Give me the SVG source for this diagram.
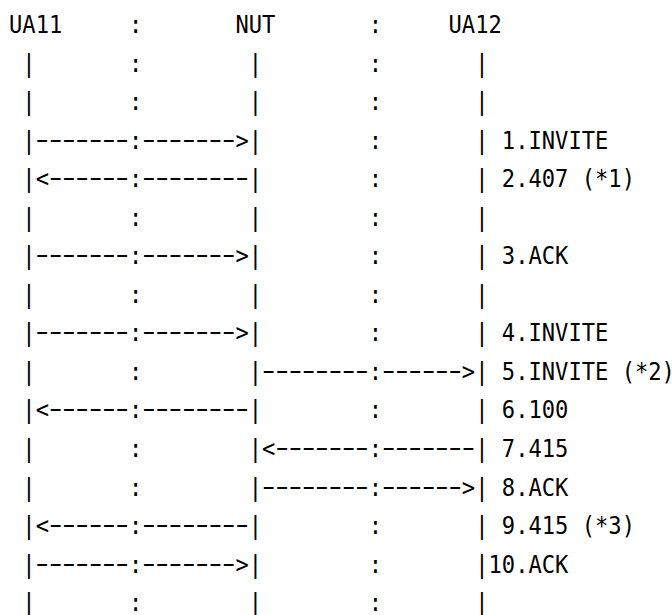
<svg xmlns="http://www.w3.org/2000/svg" width="672" height="615" viewBox="0 0 672 615" xml:space="preserve">
<style>
text { font-family: "DejaVu Sans Mono", "Liberation Mono", monospace; font-size: 24.7px; fill: #000; white-space: pre; }
text.d { font-family: "Liberation Sans", "DejaVu Sans", sans-serif; }
</style>
<rect width="672" height="615" fill="#fff"/>
<g transform="translate(9,0) scale(0.89573,1)">
  <g id="ua11">
    <text x="0" y="33">UA11</text>
  </g>
  <g id="nut">
    <text x="252.80" y="33">NUT</text>
  </g>
  <g id="ua12">
    <text x="490.73" y="33">UA12</text>
  </g>
  <g id="separators">
    <text x="133.84" y="33">:</text>
    <text x="401.51" y="33">:</text>
    <text x="133.84" y="71.55">:</text><text x="401.51" y="71.55">:</text>
    <text x="133.84" y="110.1">:</text><text x="401.51" y="110.1">:</text>
    <text x="401.51" y="148.65">:</text>
    <text x="401.51" y="187.2">:</text>
    <text x="133.84" y="225.75">:</text><text x="401.51" y="225.75">:</text>
    <text x="401.51" y="264.3">:</text>
    <text x="133.84" y="302.85">:</text><text x="401.51" y="302.85">:</text>
    <text x="401.51" y="341.4">:</text>
    <text x="133.84" y="379.95">:</text>
    <text x="401.51" y="418.5">:</text>
    <text x="133.84" y="457.05">:</text>
    <text x="133.84" y="495.6">:</text>
    <text x="401.51" y="534.15">:</text>
    <text x="401.51" y="572.7">:</text>
    <text x="133.84" y="611.25">:</text><text x="401.51" y="611.25">:</text>
  </g>
  <g id="lifelines">
    <text x="14.87" y="71.55">|</text><text x="267.67" y="71.55">|</text><text x="520.47" y="71.55">|</text>
    <text x="14.87" y="110.1">|</text><text x="267.67" y="110.1">|</text><text x="520.47" y="110.1">|</text>
    <text x="520.47" y="148.65">|</text>
    <text x="520.47" y="187.2">|</text>
    <text x="14.87" y="225.75">|</text><text x="267.67" y="225.75">|</text><text x="520.47" y="225.75">|</text>
    <text x="520.47" y="264.3">|</text>
    <text x="14.87" y="302.85">|</text><text x="267.67" y="302.85">|</text><text x="520.47" y="302.85">|</text>
    <text x="520.47" y="341.4">|</text>
    <text x="14.87" y="379.95">|</text>
    <text x="520.47" y="418.5">|</text>
    <text x="14.87" y="457.05">|</text>
    <text x="14.87" y="495.6">|</text>
    <text x="520.47" y="534.15">|</text>
    <text x="520.47" y="572.7">|</text>
    <text x="14.87" y="611.25">|</text><text x="267.67" y="611.25">|</text><text x="520.47" y="611.25">|</text>
  </g>
  <g id="connectors">
    <g id="msg1">
      <text x="14.87" y="148.65">|</text>
      <text class="d" x="29.74" y="146.65" textLength="104.09" lengthAdjust="spacingAndGlyphs">-------</text>
      <text x="133.84" y="148.65">:</text>
      <text class="d" x="148.71" y="146.65" textLength="104.09" lengthAdjust="spacingAndGlyphs">-------</text>
      <text x="252.80" y="148.65">&gt;|</text>
    </g>
    <g id="msg2">
      <text x="14.87" y="187.2">|&lt;</text>
      <text class="d" x="44.61" y="185.2" textLength="89.22" lengthAdjust="spacingAndGlyphs">------</text>
      <text x="133.84" y="187.2">:</text>
      <text class="d" x="148.71" y="185.2" textLength="118.96" lengthAdjust="spacingAndGlyphs">--------</text>
      <text x="267.67" y="187.2">|</text>
    </g>
    <g id="msg3">
      <text x="14.87" y="264.3">|</text>
      <text class="d" x="29.74" y="262.3" textLength="104.09" lengthAdjust="spacingAndGlyphs">-------</text>
      <text x="133.84" y="264.3">:</text>
      <text class="d" x="148.71" y="262.3" textLength="104.09" lengthAdjust="spacingAndGlyphs">-------</text>
      <text x="252.80" y="264.3">&gt;|</text>
    </g>
    <g id="msg4">
      <text x="14.87" y="341.4">|</text>
      <text class="d" x="29.74" y="339.4" textLength="104.09" lengthAdjust="spacingAndGlyphs">-------</text>
      <text x="133.84" y="341.4">:</text>
      <text class="d" x="148.71" y="339.4" textLength="104.09" lengthAdjust="spacingAndGlyphs">-------</text>
      <text x="252.80" y="341.4">&gt;|</text>
    </g>
    <g id="msg5">
      <text x="267.67" y="379.95">|</text>
      <text class="d" x="282.54" y="377.95" textLength="118.96" lengthAdjust="spacingAndGlyphs">--------</text>
      <text x="401.51" y="379.95">:</text>
      <text class="d" x="416.38" y="377.95" textLength="89.22" lengthAdjust="spacingAndGlyphs">------</text>
      <text x="505.60" y="379.95">&gt;|</text>
    </g>
    <g id="msg6">
      <text x="14.87" y="418.5">|&lt;</text>
      <text class="d" x="44.61" y="416.5" textLength="89.22" lengthAdjust="spacingAndGlyphs">------</text>
      <text x="133.84" y="418.5">:</text>
      <text class="d" x="148.71" y="416.5" textLength="118.96" lengthAdjust="spacingAndGlyphs">--------</text>
      <text x="267.67" y="418.5">|</text>
    </g>
    <g id="msg7">
      <text x="267.67" y="457.05">|&lt;</text>
      <text class="d" x="297.41" y="455.05" textLength="104.09" lengthAdjust="spacingAndGlyphs">-------</text>
      <text x="401.51" y="457.05">:</text>
      <text class="d" x="416.38" y="455.05" textLength="104.09" lengthAdjust="spacingAndGlyphs">-------</text>
      <text x="520.47" y="457.05">|</text>
    </g>
    <g id="msg8">
      <text x="267.67" y="495.6">|</text>
      <text class="d" x="282.54" y="493.6" textLength="118.96" lengthAdjust="spacingAndGlyphs">--------</text>
      <text x="401.51" y="495.6">:</text>
      <text class="d" x="416.38" y="493.6" textLength="89.22" lengthAdjust="spacingAndGlyphs">------</text>
      <text x="505.60" y="495.6">&gt;|</text>
    </g>
    <g id="msg9">
      <text x="14.87" y="534.15">|&lt;</text>
      <text class="d" x="44.61" y="532.15" textLength="89.22" lengthAdjust="spacingAndGlyphs">------</text>
      <text x="133.84" y="534.15">:</text>
      <text class="d" x="148.71" y="532.15" textLength="118.96" lengthAdjust="spacingAndGlyphs">--------</text>
      <text x="267.67" y="534.15">|</text>
    </g>
    <g id="msg10">
      <text x="14.87" y="572.7">|</text>
      <text class="d" x="29.74" y="570.7" textLength="104.09" lengthAdjust="spacingAndGlyphs">-------</text>
      <text x="133.84" y="572.7">:</text>
      <text class="d" x="148.71" y="570.7" textLength="104.09" lengthAdjust="spacingAndGlyphs">-------</text>
      <text x="252.80" y="572.7">&gt;|</text>
    </g>
  </g>
  <g id="labels">
    <text x="550.21" y="148.65">1.INVITE</text>
    <text x="550.21" y="187.2">2.407 (*1)</text>
    <text x="550.21" y="264.3">3.ACK</text>
    <text x="550.21" y="341.4">4.INVITE</text>
    <text x="550.21" y="379.95">5.INVITE (*2)</text>
    <text x="550.21" y="418.5">6.100</text>
    <text x="550.21" y="457.05">7.415</text>
    <text x="550.21" y="495.6">8.ACK</text>
    <text x="550.21" y="534.15">9.415 (*3)</text>
    <text x="535.34" y="572.7">10.ACK</text>
  </g>
</g>
</svg>
